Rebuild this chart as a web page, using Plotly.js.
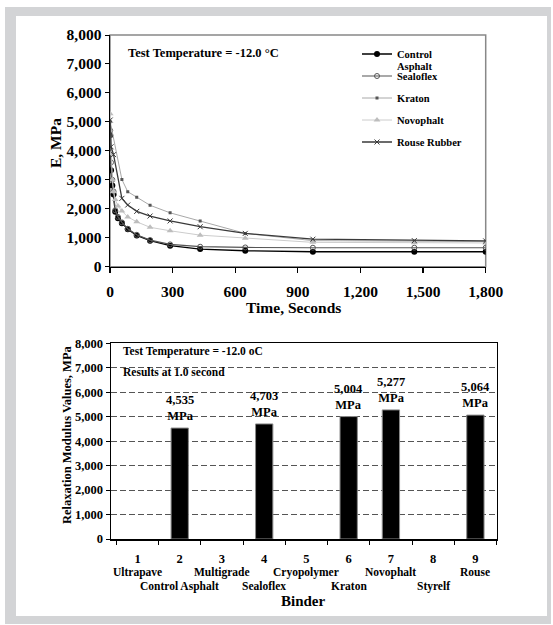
<!DOCTYPE html>
<html>
<head>
<meta charset="utf-8">
<script src="https://cdn.plot.ly/plotly-3.0.1.min.js"></script>
<style>
  html, body { margin: 0; padding: 0; background: #ffffff; }
  #outer { position: absolute; left: 5px; top: 7px; width: 546px; height: 617px; background: #d3d4d6; }
  #inner { position: absolute; left: 16px; top: 16px; width: 531px; height: 600px; background: #ffffff; }
  #chart { position: absolute; left: 0; top: 0; width: 553px; height: 625px; }
</style>
</head>
<body>
<div id="outer"></div>
<div id="inner"></div>
<div id="chart"></div>
<script>
// ---------- Top chart data: relaxation modulus vs time ----------
const times = [1, 5, 11, 17, 25, 38, 57, 85, 128, 192, 288, 432, 648, 972, 1458, 1800];
const controlAsphalt = [4535, 3330, 2800, 2490, 1900, 1670, 1500, 1290, 1080, 900, 725, 610, 550, 517, 517, 517];
const sealoflex      = [4703, 3600, 3000, 2600, 1950, 1720, 1530, 1310, 1100, 920, 770, 690, 665, 655, 655, 655];
const kraton         = [5004, null, null, null, null, null, 3010, 2590, 2400, 2120, 1860, 1580, 1150, 900, 880, 870];
const novophalt      = [5277, 3900, 3000, 2600, 2320, 2100, 1920, 1720, 1550, 1360, 1240, 1090, 980, 840, 830, 820];
const rouseRubber    = [5064, 4140, null, 3870, null, null, 2360, 2130, 1910, 1750, 1580, 1380, 1150, 950, 900, 890];
// legend names (first name wraps onto a second line: "Control" / "Asphalt")
const seriesNames = ["Control", "Sealoflex", "Kraton", "Novophalt", "Rouse Rubber"];
const firstNameSecondLine = "Asphalt";

// ---------- Bottom chart data: values at 1.0 second ----------
const binders = ["Ultrapave", "Control Asphalt", "Multigrade", "Sealoflex", "Cryopolymer", "Kraton", "Novophalt", "Styrelf", "Rouse"];
const binderNumbers = ["1", "2", "3", "4", "5", "6", "7", "8", "9"];
const modulusAt1s = [null, 4535, null, 4703, null, 5004, 5277, null, 5064];

const FONT = "Liberation Serif, Times New Roman, serif";
const bold = (size, color) => ({ family: FONT, size: size, color: color || "#000", weight: "bold" });

const seriesData = [controlAsphalt, sealoflex, kraton, novophalt, rouseRubber];
const styles = [
  { line: { color: "#000000", width: 1.3 }, marker: { symbol: "circle", size: 6, color: "#000000" } },
  { line: { color: "#555555", width: 1.2 }, marker: { symbol: "circle-open", size: 5, color: "#555555", line: { width: 1, color: "#555555" } } },
  { line: { color: "#a8a8a8", width: 1 },   marker: { symbol: "square", size: 3, color: "#555555" } },
  { line: { color: "#cccccc", width: 1 },   marker: { symbol: "triangle-up", size: 6, color: "#bdbdbd" } },
  { line: { color: "#3a3a3a", width: 1.3 }, marker: { symbol: "x-thin-open", size: 5, color: "#3a3a3a", line: { width: 1, color: "#3a3a3a" } } }
];

const traces = seriesData.map((vals, i) => ({
  type: "scatter",
  mode: "lines+markers",
  x: times,
  y: vals,
  name: seriesNames[i],
  connectgaps: true,
  xaxis: "x",
  yaxis: "y",
  legendgroup: "g" + i,
  line: styles[i].line,
  marker: styles[i].marker
}));

traces.push({
  type: "bar",
  x: binders,
  y: modulusAt1s,
  xaxis: "x2",
  yaxis: "y2",
  showlegend: false,
  marker: { color: "#000000", line: { color: "#8a8a8a", width: 1 } }
});

const W = 553, H = 625;
const px = v => v / W;
const py = v => (H - v) / H;

const annotations = [
  { text: "Test Temperature = -12.0 °C", xref: "paper", yref: "paper", x: px(126), y: py(53), xanchor: "left", yanchor: "middle", showarrow: false, font: bold(12.5) },
  { text: firstNameSecondLine, xref: "paper", yref: "paper", x: px(396), y: py(67), xanchor: "left", yanchor: "middle", showarrow: false, borderpad: 0, font: bold(10.5) },
  { text: "Time, Seconds", xref: "paper", yref: "paper", x: px(294), y: py(307), xanchor: "center", yanchor: "middle", showarrow: false, font: bold(15.5) },
  { text: "E, MPa", xref: "paper", yref: "paper", x: px(55), y: py(143), xanchor: "center", yanchor: "middle", textangle: -90, showarrow: false, font: bold(15.5) },
  { text: "Test Temperature = -12.0 oC", xref: "paper", yref: "paper", x: px(121), y: py(352), xanchor: "left", yanchor: "middle", showarrow: false, font: bold(11.5) },
  { text: "Results at 1.0 second", xref: "paper", yref: "paper", x: px(121), y: py(372), xanchor: "left", yanchor: "middle", showarrow: false, font: bold(11.5) },
  { text: "Binder", xref: "paper", yref: "paper", x: px(303), y: py(601), xanchor: "center", yanchor: "middle", showarrow: false, font: bold(15) },
  { text: "Relaxation Modulus Values, MPa", xref: "paper", yref: "paper", x: px(67), y: py(435), xanchor: "center", yanchor: "middle", textangle: -90, showarrow: false, font: bold(12.5) }
];

binders.forEach((b, i) => {
  annotations.push({
    text: b, xref: "x2", yref: "paper", x: b, y: py(i % 2 === 0 ? 572 : 586),
    xanchor: "center", yanchor: "middle", showarrow: false, font: bold(11.5)
  });
  if (modulusAt1s[i] !== null) {
    annotations.push({
      text: modulusAt1s[i].toLocaleString("en-US") + "<br>MPa",
      xref: "x2", yref: "y2", x: b, y: modulusAt1s[i],
      xanchor: "center", yanchor: "bottom", yshift: 3, showarrow: false, font: bold(12.5)
    });
  }
});

const layout = {
  width: W, height: H,
  margin: { l: 0, r: 0, t: 0, b: 0 },
  paper_bgcolor: "rgba(0,0,0,0)",
  plot_bgcolor: "#ffffff",
  font: { family: FONT, color: "#000" },
  showlegend: true,
  legend: {
    x: px(357), y: py(39.5), xanchor: "left", yanchor: "top",
    bgcolor: "rgba(0,0,0,0)", font: bold(10.5),
    traceorder: "grouped", tracegroupgap: 3, itemwidth: 30
  },
  xaxis: {
    domain: [px(110), px(485.7)], anchor: "y",
    range: [0, 1800], dtick: 300, tick0: 0, tickformat: ",d",
    showgrid: false, zeroline: false,
    showline: true, linecolor: "#000", linewidth: 1.5,
    ticks: "outside", ticklen: 5, tickcolor: "#000", tickwidth: 1.2,
    ticklabelstandoff: 5,
    tickfont: bold(15.5)
  },
  yaxis: {
    domain: [py(266.7), py(35)], anchor: "x",
    range: [0, 8000], dtick: 1000, tickformat: ",d",
    showgrid: false, zeroline: false,
    showline: true, linecolor: "#000", linewidth: 1.5,
    ticks: "outside", ticklen: 4, tickcolor: "#000",
    tickfont: bold(15.5)
  },
  xaxis2: {
    domain: [px(111), px(496.5)], anchor: "y2",
    type: "category", tickmode: "array", tickvals: binders, ticktext: binderNumbers,
    tickson: "boundaries",
    showgrid: false, zeroline: false,
    showline: true, mirror: true, linecolor: "#000", linewidth: 1.5,
    ticks: "outside", ticklen: 4, tickcolor: "#000",
    ticklabelstandoff: 7,
    tickfont: bold(12.5)
  },
  yaxis2: {
    domain: [py(539), py(343.3)], anchor: "x2",
    range: [0, 8000], dtick: 1000, tickformat: ",d",
    showgrid: true, gridcolor: "#555555", gridwidth: 1, griddash: "6px,3px",
    zeroline: false,
    showline: true, mirror: true, linecolor: "#000", linewidth: 1.5,
    ticks: "outside", ticklen: 4, tickcolor: "#000",
    tickfont: bold(12.5)
  },
  bargap: 0.59,
  shapes: [
    { type: "rect", xref: "x domain", yref: "y domain", x0: 0, x1: 1, y0: 0, y1: 1,
      line: { color: "#888888", width: 1.5 }, layer: "below" }
  ],
  annotations: annotations
};

Plotly.newPlot("chart", traces, layout, { displayModeBar: false, staticPlot: true });
</script>
</body>
</html>
